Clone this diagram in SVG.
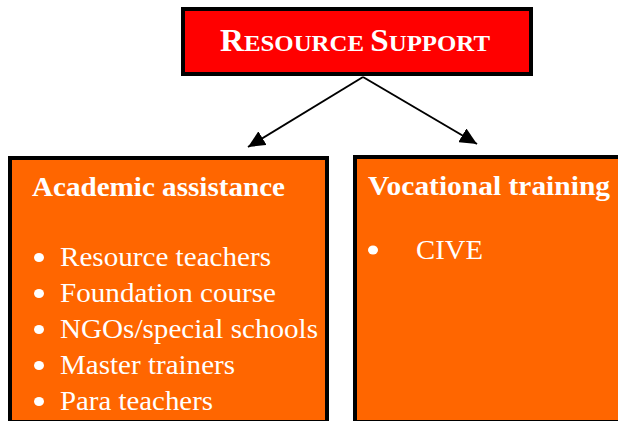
<svg xmlns="http://www.w3.org/2000/svg" width="618" height="421" viewBox="0 0 618 421">
  <style>
    .box { stroke: #000; stroke-width: 4; }
    .head { fill: #fff; font-family: "Liberation Serif", "Times New Roman", serif; font-weight: bold; }
    .item { fill: #fff; font-family: "Liberation Serif", "Times New Roman", serif; font-size: 28px; }
    .dot { fill: #fff; }
    .link { stroke: #000; stroke-width: 2; marker-end: url(#tip); }
  </style>
  <defs>
    <marker id="tip" viewBox="0 0 17 16" refX="17" refY="8" markerWidth="17" markerHeight="16" markerUnits="userSpaceOnUse" orient="auto">
      <path d="M0,0 L17,8 L0,16 Z" fill="#000"/>
    </marker>
  </defs>

  <rect width="618" height="421" fill="#fff"/>

  <!-- connectors -->
  <g id="connectors">
    <line class="link" x1="363" y1="77" x2="248" y2="147"/>
    <line class="link" x1="363" y1="77" x2="477" y2="144"/>
  </g>

  <!-- root node -->
  <g id="resource-support">
    <rect class="box" x="183" y="9" width="348" height="65" fill="#ff0000"/>
    <text class="head" x="220" y="51" textLength="270" lengthAdjust="spacingAndGlyphs"><tspan font-size="32">R</tspan><tspan font-size="24">ESOURCE </tspan><tspan font-size="32">S</tspan><tspan font-size="24">UPPORT</tspan></text>
  </g>

  <!-- academic assistance -->
  <g id="academic-assistance">
    <rect class="box" x="10" y="158" width="317" height="264" fill="#ff6600"/>
    <text class="head" x="32" y="196" font-size="27" textLength="253" lengthAdjust="spacingAndGlyphs">Academic assistance</text>
    <ellipse class="dot" cx="39" cy="257.5" rx="5" ry="4.5"/>
    <text class="item" x="60" y="266" textLength="211" lengthAdjust="spacingAndGlyphs">Resource teachers</text>
    <ellipse class="dot" cx="39" cy="293.5" rx="5" ry="4.5"/>
    <text class="item" x="60" y="302" textLength="216" lengthAdjust="spacingAndGlyphs">Foundation course</text>
    <ellipse class="dot" cx="39" cy="329.5" rx="5" ry="4.5"/>
    <text class="item" x="60" y="338" textLength="258" lengthAdjust="spacingAndGlyphs">NGOs/special schools</text>
    <ellipse class="dot" cx="39" cy="365.5" rx="5" ry="4.5"/>
    <text class="item" x="60" y="374" textLength="175" lengthAdjust="spacingAndGlyphs">Master trainers</text>
    <ellipse class="dot" cx="39" cy="401.5" rx="5" ry="4.5"/>
    <text class="item" x="60" y="410" textLength="153" lengthAdjust="spacingAndGlyphs">Para teachers</text>
  </g>

  <!-- vocational training -->
  <g id="vocational-training">
    <rect class="box" x="355" y="157" width="300" height="265" fill="#ff6600"/>
    <text class="head" x="368" y="195" font-size="27" textLength="242" lengthAdjust="spacingAndGlyphs">Vocational training</text>
    <ellipse class="dot" cx="373" cy="250" rx="5" ry="4.5"/>
    <text class="item" x="416" y="259" textLength="67" lengthAdjust="spacingAndGlyphs">CIVE</text>
  </g>
</svg>
